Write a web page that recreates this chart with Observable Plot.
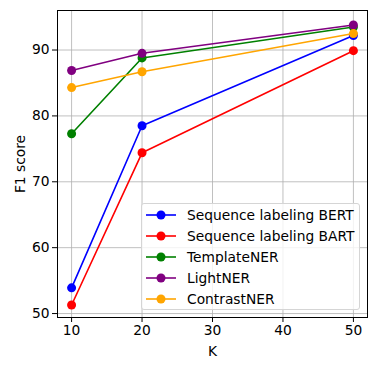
<!DOCTYPE html>
<html>
<head>
<meta charset="utf-8">
<script src="https://cdn.jsdelivr.net/npm/d3@7"></script>
<script src="https://cdn.jsdelivr.net/npm/@observablehq/plot@0.6"></script>
<style>
  html, body { margin: 0; padding: 0; background: #fff; }
  #wrap { position: relative; width: 376px; height: 371px; font-family: "DejaVu Sans", sans-serif; }
  #legend { position: absolute; left: 141px; top: 203px; width: 219px; height: 107px; box-sizing: border-box;
    border: 1px solid #d5d5d5; border-radius: 3px; background: rgba(255,255,255,0.8); }
  .row { position: absolute; left: 4px; height: 20px; display: flex; align-items: center; font-size: 13.8px; color: #000; white-space: nowrap; }
  .row svg { margin-right: 11px; }
</style>
</head>
<body>
<div id="wrap"><div id="legend"></div></div>
<script>
const K = [10, 20, 50];
const seriesNames = ["Sequence labeling BERT", "Sequence labeling BART", "TemplateNER", "LightNER", "ContrastNER"];
const seriesColors = ["blue", "red", "green", "purple", "orange"];
const bert = [53.9, 78.5, 92.2];
const bart = [51.3, 74.4, 89.9];
const templateNER = [77.3, 88.8, 93.5];
const lightNER = [86.9, 89.5, 93.8];
const contrastNER = [84.3, 86.7, 92.5];
const xTicks = [10, 20, 30, 40, 50];
const yTicks = [50, 60, 70, 80, 90];

const allValues = [bert, bart, templateNER, lightNER, contrastNER];
const data = [];
allValues.forEach((vals, i) => vals.forEach((v, j) => data.push({series: seriesNames[i], K: K[j], f1: v})));

const marks = [
  Plot.gridX(xTicks, {stroke: "#b0b0b0", strokeOpacity: 1, strokeWidth: 0.8}),
  Plot.gridY(yTicks, {stroke: "#b0b0b0", strokeOpacity: 1, strokeWidth: 0.8}),
];
seriesNames.forEach((name) => {
  const d = data.filter(r => r.series === name);
  marks.push(Plot.line(d, {x: "K", y: "f1", stroke: "series", strokeWidth: 1.6}));
  marks.push(Plot.dot(d, {x: "K", y: "f1", fill: "series", r: 4.5}));
});
marks.push(
  Plot.axisX(xTicks, {tickSize: 5, tickPadding: 3, label: "K", labelAnchor: "center", labelArrow: "none", labelOffset: 38, stroke: "#000"}),
  Plot.axisY(yTicks, {tickSize: 5, tickPadding: 3, label: "F1 score", labelAnchor: "center", labelArrow: "none", labelOffset: 42, stroke: "#000"}),
  Plot.frame({stroke: "#000", strokeWidth: 1})
);

const chart = Plot.plot({
  width: 376,
  height: 371,
  marginLeft: 57,
  marginRight: 9,
  marginTop: 10,
  marginBottom: 54,
  style: {fontFamily: "DejaVu Sans, sans-serif", fontSize: "13.8px", color: "#000", background: "#fff"},
  x: {domain: [8, 52]},
  y: {domain: [49.4, 96]},
  color: {domain: seriesNames, range: seriesColors},
  marks
});
const wrap = document.getElementById("wrap");
wrap.insertBefore(chart, wrap.firstChild);

const legend = document.getElementById("legend");
seriesNames.forEach((name, i) => {
  const row = document.createElement("div");
  row.className = "row";
  row.style.top = (1 + i * 21) + "px";
  row.innerHTML = `<svg width="30" height="12"><line x1="0" x2="30" y1="6" y2="6" stroke="${seriesColors[i]}" stroke-width="1.6"/><circle cx="15" cy="6" r="4.5" fill="${seriesColors[i]}"/></svg><span>${name}</span>`;
  legend.appendChild(row);
});
</script>
</body>
</html>
